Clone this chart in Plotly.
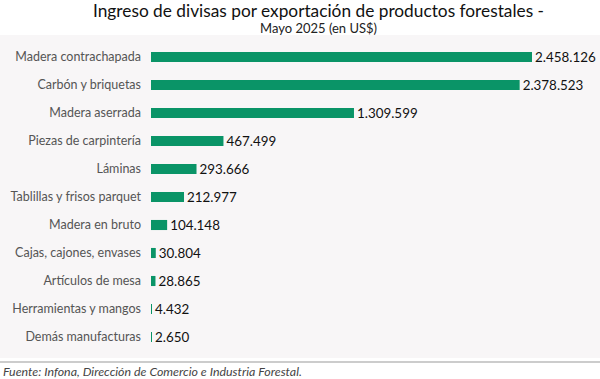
import plotly.graph_objects as go

categories = ["Madera contrachapada", "Carbón y briquetas", "Madera aserrada",
              "Piezas de carpintería", "Láminas", "Tablillas y frisos parquet",
              "Madera en bruto", "Cajas, cajones, envases", "Artículos de mesa",
              "Herramientas y mangos", "Demás manufacturas"]
values = [2458126, 2378523, 1309599, 467499, 293666, 212977, 104148, 30804, 28865, 4432, 2650]
labels = ["2.458.126", "2.378.523", "1.309.599", "467.499", "293.666", "212.977",
          "104.148", "30.804", "28.865", "4.432", "2.650"]

W, H = 600, 379
L, R, T, B = 151, 10, 43, 28
pw = W - L - R
ph = H - T - B
xmax = 2458126 * pw / 381.0

fig = go.Figure(go.Bar(
    y=categories, x=values, orientation="h",
    marker=dict(color="#0a9467", line=dict(width=0)),
    width=0.36,
    text=labels, textposition="outside", constraintext="none",
    textfont=dict(family="Lato, sans-serif", size=13.4, color="#111111"),
    cliponaxis=False,
    hoverinfo="skip",
))

fig.update_layout(
    width=W, height=H,
    margin=dict(l=L, r=R, t=T, b=B, autoexpand=False),
    paper_bgcolor="white",
    plot_bgcolor="rgba(0,0,0,0)",
    showlegend=False,
    xaxis=dict(range=[0, xmax], visible=False, fixedrange=True, automargin=False),
    yaxis=dict(autorange="reversed", showgrid=False, zeroline=False, showline=False,
               ticks="", ticklabelstandoff=9, automargin=False, fixedrange=True,
               tickfont=dict(family="Lato, sans-serif", size=12.5, color="#555555")),
    font=dict(family="Lato, sans-serif"),
    shapes=[
        dict(type="rect", xref="paper", yref="paper",
             x0=-L / pw, x1=(pw + R) / pw,
             y0=1 - (358 - T) / ph, y1=1 + (T - 35) / ph,
             fillcolor="#f8f6f7", line=dict(width=0), layer="below"),
        dict(type="line", xref="paper", yref="paper",
             x0=-L / pw, x1=(pw + R) / pw,
             y0=1 - (362 - T) / ph, y1=1 - (362 - T) / ph,
             line=dict(color="#999999", width=1)),
    ],
    annotations=[
        dict(text="Ingreso de divisas por exportación de productos forestales -",
             xref="paper", yref="paper", x=(318 - L) / pw, y=1 + (T - 10.5) / ph,
             xanchor="center", yanchor="middle", showarrow=False,
             font=dict(family="Lato, sans-serif", size=17.3, color="#111111")),
        dict(text="Mayo 2025 (en US$)",
             xref="paper", yref="paper", x=(318 - L) / pw, y=1 + (T - 27.5) / ph,
             xanchor="center", yanchor="middle", showarrow=False,
             font=dict(family="Lato, sans-serif", size=13, color="#222222")),
        dict(text="<i>Fuente: Infona, Dirección de Comercio e Industria Forestal.</i>",
             xref="paper", yref="paper", x=(1 - L) / pw, y=1 - (371 - T) / ph,
             xanchor="left", yanchor="middle", showarrow=False,
             font=dict(family="Lato, sans-serif", size=12.4, color="#444444")),
    ],
)

fig.write_html("out.html", config={"displayModeBar": False},
               post_script="document.body.style.margin='0';")
